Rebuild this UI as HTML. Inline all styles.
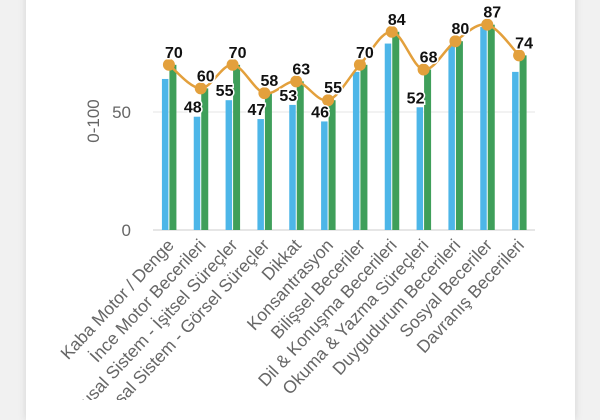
<!DOCTYPE html>
<html><head><meta charset="utf-8"><style>
html,body{margin:0;padding:0;background:#f1f1f1;width:600px;height:400px;overflow:hidden}
#card{position:absolute;left:26px;top:-10px;width:549px;height:430px;background:#fff;box-shadow:0 0 8px rgba(0,0,0,0.12)}
svg{position:absolute;left:0;top:0}
text{font-family:"Liberation Sans",sans-serif}
</style></head><body>
<div id="card"></div>
<svg id="chart" width="600" height="400"></svg>
<script>
const categories=["Kaba Motor / Denge","İnce Motor Becerileri","Duyusal Sistem - İşitsel Süreçler","Duyusal Sistem - Görsel Süreçler","Dikkat","Konsantrasyon","Bilişsel Beceriler","Dil & Konuşma Becerileri","Okuma & Yazma Süreçleri","Duygudurum Becerileri","Sosyal Beceriler","Davranış Becerileri"];
const blueValues=[64,48,55,47,53,46,67,79,52,78,86,67];
const greenValues=[70,60,70,58,63,55,70,84,68,80,87,74];
const showBlueLabel=[false,true,true,true,true,true,false,false,true,false,false,false];
const yTicks=[0,50,100];
const NS="http://www.w3.org/2000/svg";
const svg=document.getElementById('chart');
const x0=153,x1=535,band=(x1-x0)/categories.length;
function y(v){return 230-v*2.36;}
function xc(i){return x0+band*(i+0.5);}
function el(t,a,p){const e=document.createElementNS(NS,t);for(const k in a)e.setAttribute(k,a[k]);(p||svg).appendChild(e);return e;}
yTicks.forEach(t=>{
  const g=el('line',{x1:x0,x2:x1,y1:y(t),y2:y(t),stroke:t===0?'#ccc':'#e6e6e6','stroke-width':1});
  
  
  const l=el('text',{x:131,y:y(t)+6,'text-anchor':'end','font-size':17,fill:'#666'});
  l.textContent=t;
  
  
});
const yt=el('text',{x:0,y:0,transform:'translate(99,121) rotate(-90)','text-anchor':'middle','font-size':17,fill:'#666'});
yt.textContent='0-100';


categories.forEach((c,i)=>{
  const cx=xc(i);
  const b=el('rect',{x:cx-7,y:y(blueValues[i]),width:6.5,height:y(0)-y(blueValues[i]),fill:'#4db6e8'});
  
  
  const g=el('rect',{x:cx+0.5,y:y(greenValues[i]),width:7,height:y(0)-y(greenValues[i]),fill:'#3f9f5a'});
  
  
  const t=el('text',{x:0,y:0,transform:`translate(${cx+6},246) rotate(-47)`,'text-anchor':'end','font-size':17.5,fill:'#666'});
  t.textContent=c;
  
  
});
const pts=greenValues.map((v,i)=>[xc(i),y(v)]);
let d=`M${pts[0][0]},${pts[0][1]}`;
for(let i=0;i<pts.length-1;i++){
  const p0=pts[Math.max(i-1,0)],p1=pts[i],p2=pts[i+1],p3=pts[Math.min(i+2,pts.length-1)];
  const c1=[p1[0]+(p2[0]-p0[0])/6,p1[1]+(p2[1]-p0[1])/6];
  const c2=[p2[0]-(p3[0]-p1[0])/6,p2[1]-(p3[1]-p1[1])/6];
  d+=` C${c1[0]},${c1[1]} ${c2[0]},${c2[1]} ${p2[0]},${p2[1]}`;
}
const ln=el('path',{d:d,fill:'none',stroke:'#e3a03c','stroke-width':2.5});


pts.forEach((p,i)=>{
  const c=el('circle',{cx:p[0],cy:p[1],r:6,fill:'#e3a03c'});
  
  
});
function label(xp,yp,v,name){
  const t=el('text',{x:xp,y:yp,'text-anchor':'middle','font-size':16,'font-weight':'bold',fill:'#111',stroke:'#fff','stroke-width':3,'paint-order':'stroke'});
  t.textContent=v;
  
  
}
greenValues.forEach((v,i)=>label(xc(i)+5,y(v)-7,v,'green-value-'+i));
blueValues.forEach((v,i)=>{ if(showBlueLabel[i]) label(xc(i)-8,y(v)-4,v,'blue-value-'+i); });
</script>
</body></html>
